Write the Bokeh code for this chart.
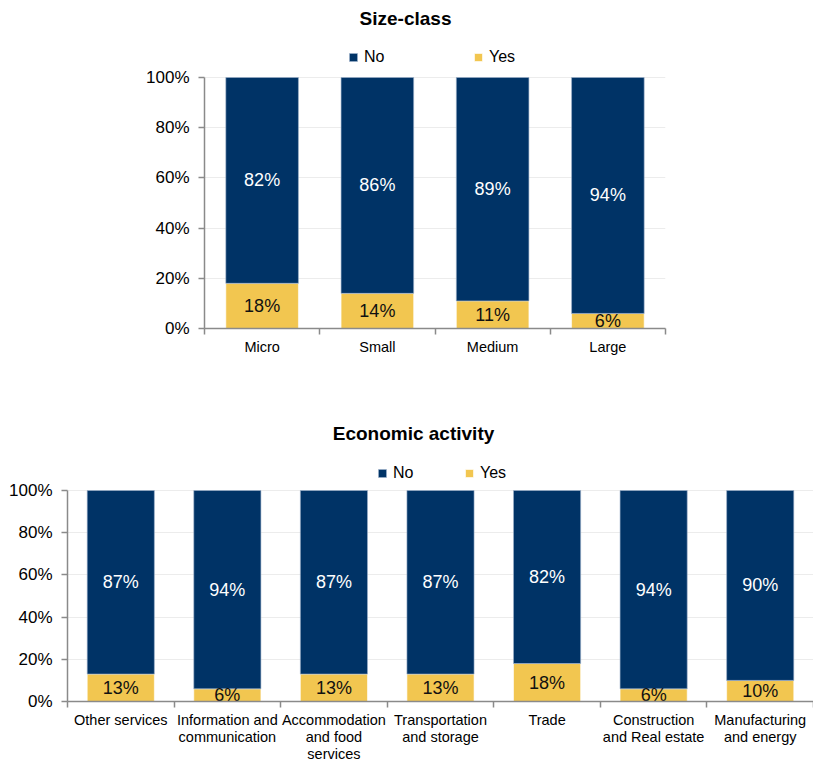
from bokeh.plotting import figure
from bokeh.models import (Range1d, FixedTicker, LinearAxis, PrintfTickFormatter,
                          ColumnDataSource, Legend, LegendItem, Label)
from bokeh.core.properties import value
from bokeh.embed import file_html
from bokeh.resources import INLINE

# ---- data -------------------------------------------------------------
size_classes = ["Micro", "Small", "Medium", "Large"]
size_no = [82, 86, 89, 94]
size_yes = [18, 14, 11, 6]

activities = [
    "Other services",
    "Information and\ncommunication",
    "Accommodation\nand food\nservices",
    "Transportation\nand storage",
    "Trade",
    "Construction\nand Real estate",
    "Manufacturing\nand energy",
]
activity_no = [87, 94, 87, 87, 82, 94, 90]
activity_yes = [13, 6, 13, 13, 18, 6, 10]

y_ticks = [0, 20, 40, 60, 80, 100]

# ---- styling ----------------------------------------------------------
NAVY = "#003366"
GOLD = "#f2c650"
AXIS_GREY = "#8a8a8a"
GRID_GREY = "#ececec"
FONT = "Liberation Sans"
FONT_V = value(FONT)


def make_chart(title, cats, no, yes, width, height, left, right, bottom,
               plot_px, title_pos, legend_no_pos, legend_yes_pos):
    """Stacked 100% bars. The frame reaches the top of the figure so the
    heading and legend can sit inside it; the 0-100 scale covers the
    lowest `plot_px` pixels of the frame."""
    n = len(cats)
    centers = [i + 0.5 for i in range(n)]
    bounds = list(range(n + 1))
    frame_px = height - bottom
    y_end = 100.0 * frame_px / plot_px

    p = figure(width=width, height=height,
               x_range=Range1d(0, n), y_range=Range1d(0, y_end),
               x_axis_type=None, tools="", toolbar_location=None,
               output_backend="svg",
               min_border_left=left, min_border_right=right,
               min_border_top=0, min_border_bottom=bottom)
    p.outline_line_color = None
    p.background_fill_color = "white"
    p.border_fill_color = "white"

    src = ColumnDataSource(dict(
        x=centers,
        yes=yes,
        no=no,
        total=[a + b for a, b in zip(yes, no)],
        yes_mid=[v / 2 for v in yes],
        no_mid=[a + b / 2 for a, b in zip(yes, no)],
        yes_txt=[f"{v}%" for v in yes],
        no_txt=[f"{v}%" for v in no],
    ))

    r_yes = p.vbar(x="x", bottom=0, top="yes", width=0.63, source=src,
                   fill_color=GOLD, line_color="white", line_alpha=0.6,
                   line_width=1)
    r_no = p.vbar(x="x", bottom="yes", top="total", width=0.63, source=src,
                  fill_color=NAVY, line_color="#9fb3cc", line_alpha=0.6,
                  line_width=1)

    p.text(x="x", y="no_mid", text="no_txt", source=src,
           text_align="center", text_baseline="middle",
           text_color="white", text_font_size="18px", text_font=FONT_V)
    p.text(x="x", y="yes_mid", text="yes_txt", source=src,
           text_align="center", text_baseline="middle",
           text_color="#111111", text_font_size="18px", text_font=FONT_V)

    # y axis, limited to the 0-100% span
    yax = p.yaxis[0]
    yax.ticker = FixedTicker(ticks=y_ticks)
    yax.formatter = PrintfTickFormatter(format="%d%%")
    yax.bounds = (0, 100)
    yax.axis_line_color = AXIS_GREY
    yax.axis_line_width = 1.5
    yax.major_tick_line_color = AXIS_GREY
    yax.major_tick_line_width = 1.5
    yax.major_tick_out = 6
    yax.major_tick_in = 0
    yax.minor_tick_line_color = None
    yax.major_label_standoff = 9
    yax.major_label_text_font = FONT
    yax.major_label_text_font_size = "17px"
    yax.major_label_text_color = "black"

    p.ygrid.ticker = FixedTicker(ticks=y_ticks)
    p.ygrid.grid_line_color = GRID_GREY
    p.ygrid.grid_line_width = 1
    p.xgrid.visible = False

    # x axis: labels centred under bars, tick marks on category boundaries
    xax = LinearAxis(
        ticker=FixedTicker(ticks=centers, minor_ticks=bounds),
        major_label_overrides={c: lab for c, lab in zip(centers, cats)},
        axis_line_color=AXIS_GREY, axis_line_width=1.5,
        major_tick_line_color=None, major_tick_out=6, major_tick_in=0,
        minor_tick_line_color=AXIS_GREY, minor_tick_line_width=1.5,
        minor_tick_out=6, minor_tick_in=0,
        major_label_standoff=4,
        major_label_text_font=FONT, major_label_text_font_size="14.5px",
        major_label_text_color="black", major_label_text_line_height=1.08,
    )
    p.add_layout(xax, "below")

    # heading
    p.add_layout(Label(x=title_pos[0], y=title_pos[1], x_units="screen",
                       y_units="screen", text=title, text_align="center",
                       text_baseline="middle", text_font=FONT,
                       text_font_size="19px", text_font_style="bold",
                       text_color="black"))

    # legend entries, placed individually
    for name, rend, pos in (("No", r_no, legend_no_pos),
                            ("Yes", r_yes, legend_yes_pos)):
        leg = Legend(items=[LegendItem(label=name, renderers=[rend])],
                     location=pos, orientation="horizontal",
                     glyph_width=10, glyph_height=10, label_height=10,
                     label_standoff=6, padding=0, margin=0, spacing=0,
                     border_line_color=None, background_fill_alpha=0,
                     label_text_font=FONT, label_text_font_size="16px",
                     label_text_color="black")
        p.add_layout(leg, "center")
    return p


top_chart = make_chart(
    "Size-class", size_classes, size_no, size_yes,
    width=813, height=380, left=204, right=148, bottom=52, plot_px=251,
    title_pos=(201, 310), legend_no_pos=(144, 262), legend_yes_pos=(269, 262))

bottom_chart = make_chart(
    "Economic activity", activities, activity_no, activity_yes,
    width=813, height=391, left=67, right=0, bottom=70, plot_px=211,
    title_pos=(346, 268), legend_no_pos=(310, 219), legend_yes_pos=(397, 219))

open("out.html", "w").write(file_html([top_chart, bottom_chart], INLINE))
